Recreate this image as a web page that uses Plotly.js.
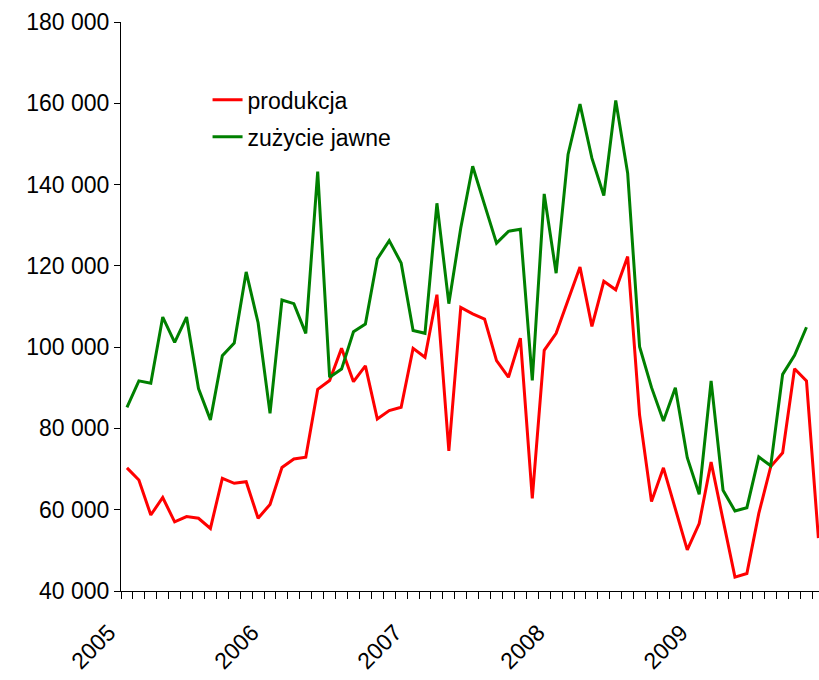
<!DOCTYPE html>
<html>
<head>
<meta charset="utf-8">
<script src="https://cdn.plot.ly/plotly-3.0.1.min.js"></script>
<style>
  html, body { margin: 0; padding: 0; background: #fff; overflow: hidden; }
  #chart { width: 819px; height: 680px; }
</style>
</head>
<body>
<div id="chart"></div>
<script>
// Months Jan 2005 .. Nov 2009
const months = [
  "2005-01","2005-02","2005-03","2005-04","2005-05","2005-06","2005-07","2005-08","2005-09","2005-10","2005-11","2005-12",
  "2006-01","2006-02","2006-03","2006-04","2006-05","2006-06","2006-07","2006-08","2006-09","2006-10","2006-11","2006-12",
  "2007-01","2007-02","2007-03","2007-04","2007-05","2007-06","2007-07","2007-08","2007-09","2007-10","2007-11","2007-12",
  "2008-01","2008-02","2008-03","2008-04","2008-05","2008-06","2008-07","2008-08","2008-09","2008-10","2008-11","2008-12",
  "2009-01","2009-02","2009-03","2009-04","2009-05","2009-06","2009-07","2009-08","2009-09","2009-10","2009-11"
];
const yearLabels = ["2005", "2006", "2007", "2008", "2009"];

const produkcja = [
  70300, 67300, 58700, 63000, 57000, 58300, 57900, 55400, 67700, 66500, 66900, 57900,
  61300, 70400, 72500, 72900, 89600, 91800, 99700, 91500, 95400, 82300, 84400, 85200,
  99700, 97500, 112900, 74500, 109800, 108200, 106900, 96700, 92600, 102200, 62800, 99200,
  103400, 111600, 119700, 105100, 116200, 114100, 122300, 83300, 62000, 70300, 60300, 50100,
  56600, 71700, 57500, 43400, 44300, 59100, 70600, 74000, 94700, 91700, 53000
];
const zuzycieJawne = [
  85200, 91700, 91100, 107400, 101200, 107400, 89800, 82100, 97900, 101000, 118500, 106000,
  83700, 111600, 110700, 103400, 143200, 92600, 94600, 103800, 105700, 121700, 126200, 120700,
  104100, 103400, 135400, 110700, 129300, 144500, 135000, 125600, 128500, 129000, 91800, 137700,
  118200, 147400, 159800, 146500, 137300, 160700, 142800, 100100, 90100, 81800, 90000, 72800,
  63800, 91700, 64800, 59700, 60500, 73000, 70800, 93300, 98000, 104900
];

const xIdx = months.map((m, i) => i);
const tickVals = months.map((m, i) => i - 0.5);
const tickText = months.map(m => {
  const mm = m.slice(5);
  return mm === "01" ? yearLabels[yearLabels.indexOf(m.slice(0, 4))] : "";
});

const traces = [
  {
    name: "produkcja",
    legendgroup: "a",
    x: xIdx.slice(0, produkcja.length),
    y: produkcja,
    mode: "lines",
    line: { color: "#ff0000", width: 3 },
    hoverinfo: "skip"
  },
  {
    name: "zużycie jawne",
    legendgroup: "b",
    x: xIdx.slice(0, zuzycieJawne.length),
    y: zuzycieJawne,
    mode: "lines",
    line: { color: "#008000", width: 3 },
    hoverinfo: "skip"
  }
];

const layout = {
  width: 819,
  height: 680,
  margin: { l: 121, r: 0, t: 22, b: 89 },
  paper_bgcolor: "#ffffff",
  plot_bgcolor: "#ffffff",
  separators: ", ",
  font: { family: "Liberation Sans, Arial, sans-serif", color: "#000" },
  showlegend: true,
  legend: {
    x: 0.124, xanchor: "left",
    y: 0.901, yanchor: "top",
    bgcolor: "rgba(0,0,0,0)",
    font: { size: 23, color: "#000" },
    tracegroupgap: 4
  },
  xaxis: {
    range: [-0.5, 58.05],
    tickmode: "array",
    tickvals: tickVals,
    ticktext: tickText,
    tickangle: -45,
    ticks: "outside",
    ticklen: 7,
    tickcolor: "#000",
    tickwidth: 1,
    ticklabelstandoff: 11,
    ticklabelshift: -12,
    showline: true,
    linecolor: "#000",
    linewidth: 1,
    showgrid: false,
    zeroline: false,
    tickfont: { size: 23, color: "#000" },
    fixedrange: true
  },
  yaxis: {
    range: [40000, 180000],
    tickmode: "linear",
    tick0: 40000,
    dtick: 20000,
    tickformat: ",d",
    ticks: "outside",
    ticklen: 6,
    tickcolor: "#000",
    tickwidth: 1,
    showline: true,
    linecolor: "#000",
    linewidth: 1,
    showgrid: false,
    zeroline: false,
    tickfont: { size: 23, color: "#000" },
    fixedrange: true
  }
};

Plotly.newPlot("chart", traces, layout, { displayModeBar: false, staticPlot: true });
</script>
</body>
</html>
